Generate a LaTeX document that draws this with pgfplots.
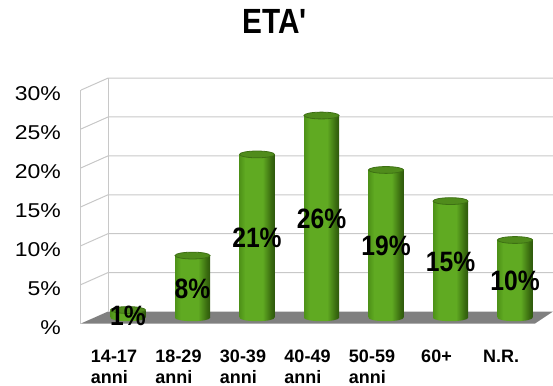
\documentclass[border=0pt]{standalone}
\usepackage{pgfplots}
\usepackage{pgfplotstable}
\pgfplotsset{compat=1.18}
\usepackage{fontspec}
\setmainfont{Liberation Sans}
\newfontfamily\titlefont[FakeStretch=0.85]{Liberation Sans}
\newfontfamily\valuefont[FakeStretch=0.88]{Liberation Sans}
\newfontfamily\tickfont[FakeStretch=1.15]{Liberation Sans}

\definecolor{floorgray}{RGB}{128,128,128}
\definecolor{gridgray}{RGB}{200,200,200}
\definecolor{cylL}{RGB}{78,146,24}
\definecolor{cylM}{RGB}{96,170,34}
\definecolor{cylR}{RGB}{58,108,16}
\definecolor{cylRR}{RGB}{46,88,12}
\definecolor{cylTop}{RGB}{80,140,28}
\definecolor{cylRim}{RGB}{62,112,20}

% horizontal light/dark profile of a cylinder seen from the front
\pgfdeclarehorizontalshading{cylinder}{100bp}{%
  color(0bp)=(cylL); color(25bp)=(cylL); color(33bp)=(cylM);
  color(58bp)=(cylM); color(70bp)=(cylR); color(75bp)=(cylRR); color(100bp)=(cylRR)}

% elliptic lid of a cylinder
\pgfdeclareplotmark{cyltop}{%
  \pgfpathellipse{\pgfpointorigin}{\pgfqpoint{17.5pt}{0pt}}{\pgfqpoint{0pt}{3.4pt}}%
  \pgfusepathqfillstroke}
% front half of the cylinder's base
\pgfdeclareplotmark{cylbase}{%
  \pgfpathmoveto{\pgfqpoint{-17.5pt}{0pt}}%
  \pgfpatharc{180}{360}{17.5pt and 3.4pt}%
  \pgfpathclose
  \pgfshadepath{cylinder}{0}%
  \pgfusepath{discard}}

% share of respondents by age group (%)
\pgfplotstableread{
x v
0 1
1 8
2 21
3 26
4 19
5 15
6 10
}\etadata

\begin{document}
\begin{tikzpicture}
\begin{axis}[
  at={(0pt,0pt)}, anchor=south west,
  scale only axis, width=553pt, height=385pt,
  set layers, clip=false,
  xmin=-1.9845, xmax=6.5891,
  ymin=-8.637, ymax=40.848,
  axis line style={draw=none},
  major tick length=0pt,
  xtick={0,...,6},
  xticklabels={{14-17\\anni},{18-29\\anni},{30-39\\anni},{40-49\\anni},{50-59\\anni},{60+},{N.R.}},
  xticklabel style={anchor=north, align=left, inner sep=0pt, xshift=-14pt, yshift=35pt,
    font=\fontsize{18}{20.5}\selectfont\bfseries},
  ytick={0,5,...,30},
  yticklabels={\%,5\%,10\%,15\%,20\%,25\%,30\%},
  yticklabel style={anchor=east, inner sep=0pt, xshift=61pt, yshift=-9.5pt,
    font=\tickfont\fontsize{20}{24}\selectfont},
  title={ETA\textquotesingle},
  title style={at={(0.498,0.898)}, anchor=base, inner sep=0pt,
    font=\titlefont\bfseries\fontsize{35}{40}\selectfont},
  /pgf/number format/assume math mode=true,
]
\begin{pgfonlayer}{axis background}
  % floor
  \fill[floorgray] (axis cs:-0.729,-0.733) -- (axis cs:6.310,-0.733)
    -- (axis cs:6.589,0.81) -- (axis cs:-0.310,0.81) -- cycle;
  % side and back walls with their grid
  \draw[gridgray, line width=1pt] (axis cs:-0.729,-0.733) -- (axis cs:-0.729,29.267);
  \draw[gridgray, line width=1pt] (axis cs:-0.310,0.81) -- (axis cs:-0.310,30.81);
  \draw[gridgray, line width=1pt] (axis cs:-0.729,4.267) -- (axis cs:-0.310,5.81) -- (axis cs:6.589,5.81);
  \draw[gridgray, line width=1pt] (axis cs:-0.729,9.267) -- (axis cs:-0.310,10.81) -- (axis cs:6.589,10.81);
  \draw[gridgray, line width=1pt] (axis cs:-0.729,14.267) -- (axis cs:-0.310,15.81) -- (axis cs:6.589,15.81);
  \draw[gridgray, line width=1pt] (axis cs:-0.729,19.267) -- (axis cs:-0.310,20.81) -- (axis cs:6.589,20.81);
  \draw[gridgray, line width=1pt] (axis cs:-0.729,24.267) -- (axis cs:-0.310,25.81) -- (axis cs:6.589,25.81);
  \draw[gridgray, line width=1pt] (axis cs:-0.729,29.267) -- (axis cs:-0.310,30.81) -- (axis cs:6.589,30.81);
\end{pgfonlayer}

% cylinder bodies, one plot per bar so that each gets its own shading
\pgfplotsinvokeforeach{0,...,6}{
  \addplot[ybar, bar width=35pt, bar shift=0pt, draw=none, shade, shading=cylinder,
    restrict x to domain=#1:#1]
    table[x=x, y=v]{\etadata};
}
% rounded bottoms
\addplot[only marks, mark=cylbase] table[x=x, y expr=0]{\etadata};
% lids
\addplot[only marks, mark=cyltop, mark options={fill=cylTop, draw=cylRim, line width=0.8pt}]
  table[x=x, y=v]{\etadata};
% value labels, halfway up each cylinder
\addplot[draw=none, mark=none, point meta=\thisrow{v},
  nodes near coords={\pgfmathprintnumber{\pgfplotspointmeta}\%},
  nodes near coords style={anchor=center, inner sep=0pt, yshift=-2pt,
    font=\valuefont\bfseries\fontsize{28}{30}\selectfont}]
  table[x=x, y expr=\thisrow{v}/2]{\etadata};
\end{axis}
\pgfresetboundingbox
\useasboundingbox (0,0) rectangle (553pt,385pt);
\end{tikzpicture}
\end{document}
